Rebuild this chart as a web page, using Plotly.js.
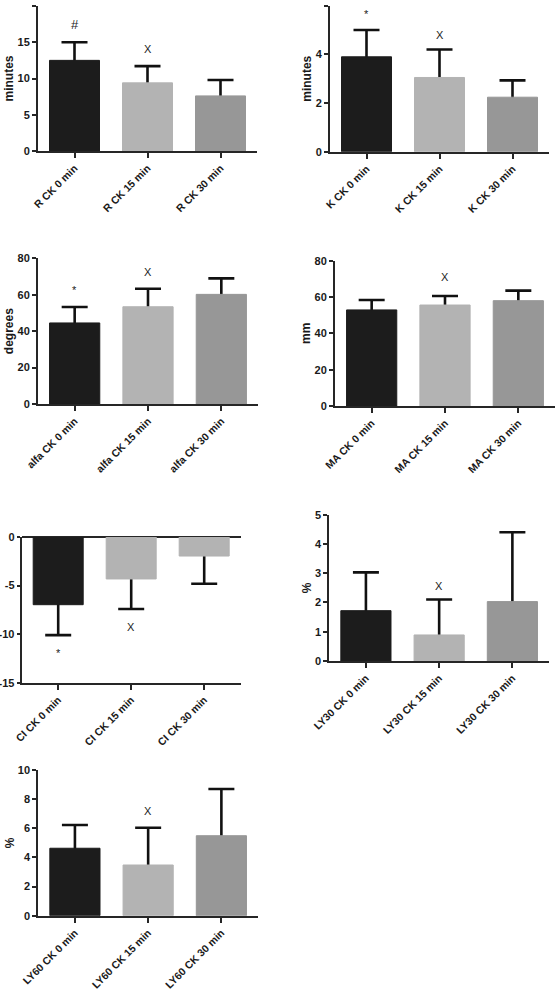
<!DOCTYPE html>
<html>
<head>
<meta charset="utf-8">
<script src="https://cdn.plot.ly/plotly-3.0.1.min.js"></script>
<style>html,body{margin:0;padding:0;background:#fff}#chart{width:557px;height:992px}</style>
</head>
<body>
<div id="chart"></div>
<script>
// ---------- DATA ----------
const timepoints = ["CK 0 min", "CK 15 min", "CK 30 min"];

const rPrefix = "R";
const rMeans = [12.5, 9.4, 7.6];
const rErr = [2.5, 2.3, 2.2];
const rMarks = ["#", "X", ""];
const rMarkY = [17.4, 14.1, null];

const kPrefix = "K";
const kMeans = [3.9, 3.05, 2.24];
const kErr = [1.1, 1.15, 0.69];
const kMarks = ["*", "X", ""];
const kMarkY = [5.65, 4.8, null];

const alfaPrefix = "alfa";
const alfaMeans = [44.5, 53.4, 60.2];
const alfaErr = [8.8, 9.9, 8.8];
const alfaMarks = ["*", "X", ""];
const alfaMarkY = [62.5, 72.6, null];

const maPrefix = "MA";
const maMeans = [52.9, 55.6, 58.0];
const maErr = [5.5, 5.0, 5.5];
const maMarks = ["", "X", ""];
const maMarkY = [null, 70.9, null];

const ciPrefix = "CI";
const ciMeans = [-6.97, -4.32, -1.96];
const ciErr = [3.13, 3.09, 2.85];
const ciMarks = ["*", "X", ""];
const ciMarkY = [-11.9, -9.23, null];
const ciTickVals = [0, -5, -10, -15];
const ciTickText = ["0", "-5", "-10", "-15"];

const ly30Prefix = "LY30";
const ly30Means = [1.72, 0.89, 2.03];
const ly30Err = [1.31, 1.21, 2.37];
const ly30Marks = ["", "X", ""];
const ly30MarkY = [null, 2.56, null];

const ly60Prefix = "LY60";
const ly60Means = [4.63, 3.48, 5.49];
const ly60Err = [1.59, 2.56, 3.21];
const ly60Marks = ["", "X", ""];
const ly60MarkY = [null, 7.2, null];

// ---------- STYLE / LAYOUT ----------
const W = 557, H = 992;
const barColors = ["#1c1c1c", "#b3b3b3", "#979797"];
const ciColors = ["#1c1c1c", "#b3b3b3", "#b3b3b3"];
const axColor = "#262626";
const txtColor = "#1a1a1a";
const FONT = "Liberation Sans, Arial, sans-serif";

const panels = [
  {prefix: rPrefix, means: rMeans, err: rErr, marks: rMarks, markY: rMarkY, ytitle: "minutes", range: [0, 20], dtick: 5, px: [38, 257], py: [6, 151], colors: barColors, markSize: [13, 11, 11]},
  {prefix: kPrefix, means: kMeans, err: kErr, marks: kMarks, markY: kMarkY, ytitle: "minutes", range: [0, 6], dtick: 2, px: [330, 549], py: [5.7, 151.7], colors: barColors, markSize: [11, 11, 11]},
  {prefix: alfaPrefix, means: alfaMeans, err: alfaErr, marks: alfaMarks, markY: alfaMarkY, ytitle: "degrees", range: [0, 80], dtick: 20, px: [38, 258], py: [258.3, 404], colors: barColors, markSize: [11, 11, 11]},
  {prefix: maPrefix, means: maMeans, err: maErr, marks: maMarks, markY: maMarkY, ytitle: "mm", range: [0, 80], dtick: 20, px: [335, 555], py: [260.7, 406], colors: barColors, markSize: [11, 11, 11]},
  {prefix: ciPrefix, means: ciMeans, err: ciErr, marks: ciMarks, markY: ciMarkY, ytitle: "", range: [-15, 0], dtick: 5, px: [21.7, 240.7], py: [537, 682.7], colors: ciColors, markSize: [11, 11, 11], tickvals: ciTickVals, ticktext: ciTickText},
  {prefix: ly30Prefix, means: ly30Means, err: ly30Err, marks: ly30Marks, markY: ly30MarkY, ytitle: "%", range: [0, 5], dtick: 1, px: [329.3, 549], py: [514.7, 661], colors: barColors, markSize: [11, 11, 11]},
  {prefix: ly60Prefix, means: ly60Means, err: ly60Err, marks: ly60Marks, markY: ly60MarkY, ytitle: "%", range: [0, 10], dtick: 2, px: [38.3, 258], py: [770, 915.7], colors: barColors, markSize: [11, 11, 11]}
];

const traces = [];
const layout = {
  width: W, height: H,
  margin: {l: 0, r: 0, t: 0, b: 0},
  paper_bgcolor: "#ffffff", plot_bgcolor: "#ffffff",
  showlegend: false,
  barmode: "overlay",
  font: {family: FONT, color: txtColor, size: 11},
  annotations: []
};

panels.forEach((p, i) => {
  const n = i + 1;
  const xa = n === 1 ? "x" : "x" + n;
  const ya = n === 1 ? "y" : "y" + n;
  const cats = timepoints.map(t => p.prefix + " " + t);
  // error bars (drawn first, lower half hidden behind the bars)
  traces.push({
    type: "bar",
    x: cats, y: p.means,
    xaxis: xa, yaxis: ya,
    width: 0.685,
    marker: {color: "rgba(0,0,0,0)", line: {width: 0}},
    error_y: {type: "data", array: p.err, color: "#111111", thickness: 2.6, width: 13},
    hoverinfo: "skip"
  });
  // bars
  traces.push({
    type: "bar",
    x: cats, y: p.means,
    xaxis: xa, yaxis: ya,
    width: 0.685,
    marker: {color: p.colors, line: {color: p.colors, width: 1}},
    hoverinfo: "x+y"
  });
  const xkey = n === 1 ? "xaxis" : "xaxis" + n;
  const ykey = n === 1 ? "yaxis" : "yaxis" + n;
  layout[xkey] = {
    domain: [p.px[0] / W, p.px[1] / W],
    anchor: ya,
    type: "category",
    range: [-0.5, 2.5],
    showline: true, linecolor: axColor, linewidth: 2,
    ticks: "outside", ticklen: 5, tickwidth: 2, tickcolor: axColor,
    tickangle: -45,
    tickfont: {family: FONT, size: 10.5, weight: "bold", color: txtColor},
    showgrid: false, zeroline: false, fixedrange: true
  };
  const yax = {
    domain: [1 - p.py[1] / H, 1 - p.py[0] / H],
    anchor: xa,
    range: p.range,
    dtick: p.dtick,
    showline: true, linecolor: axColor, linewidth: 2,
    ticks: "outside", ticklen: p.tickvals ? 3 : 4, tickwidth: 2, tickcolor: axColor,
    tickfont: {family: FONT, size: 11, weight: "bold", color: txtColor},
    showgrid: false,
    zeroline: !!p.tickvals, zerolinecolor: axColor, zerolinewidth: 2,
    title: {text: p.ytitle, standoff: 1, font: {family: FONT, size: 12, weight: "bold", color: txtColor}},
    fixedrange: true
  };
  if (p.tickvals) {
    yax.tickmode = "array";
    yax.tickvals = p.tickvals;
    yax.ticktext = p.ticktext;
  }
  layout[ykey] = yax;
  p.marks.forEach((m, j) => {
    if (!m) return;
    layout.annotations.push({
      xref: xa, yref: ya, x: cats[j], y: p.markY[j],
      text: m, showarrow: false,
      font: {family: FONT, size: p.markSize[j], color: "#222222"}
    });
  });
});

Plotly.newPlot("chart", traces, layout, {staticPlot: true, displayModeBar: false});
</script>
</body>
</html>
